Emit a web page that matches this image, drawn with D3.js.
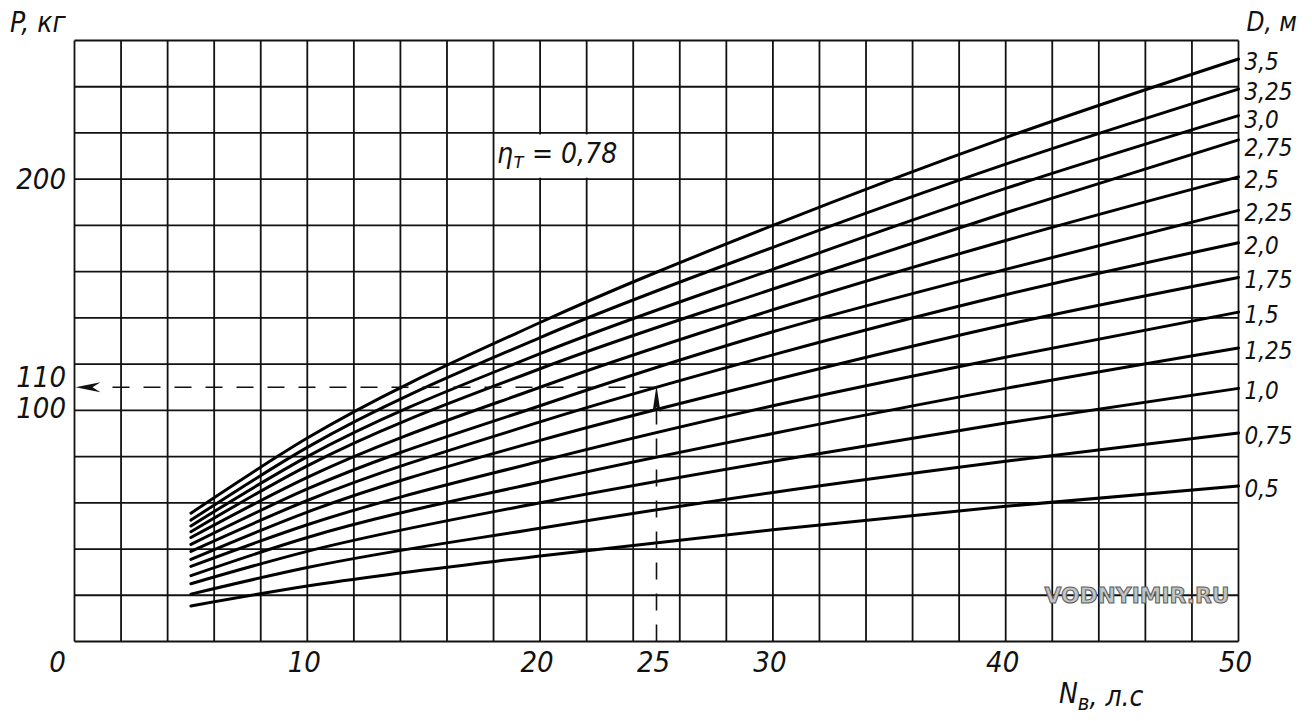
<!DOCTYPE html>
<html><head><meta charset="utf-8">
<script src="https://cdn.jsdelivr.net/npm/d3@7"></script>
<style>
html,body{margin:0;padding:0;background:#fff;}
svg{display:block;}
.lbl{font-family:"Liberation Sans Narrow","DejaVu Sans Condensed","Liberation Sans",sans-serif;font-style:italic;fill:#111;}
</style></head><body>
<svg id="c" width="1312" height="721"></svg>
<script>
// ---- data ----
const powerN = [5, 10, 20, 30, 40, 50];           // N_в, л.с
const diameterLabels = ["3,5","3,25","3,0","2,75","2,5","2,25","2,0","1,75","1,5","1,25","1,0","0,75","0,5"];
const thrustD350 = [55.5, 88, 138, 180, 218, 252];
const thrustD325 = [52.5, 84, 131.5, 170.5, 206.5, 239];
const thrustD300 = [50, 80, 124.5, 161, 196, 227.5];
const thrustD275 = [47.5, 76, 118, 152.5, 185.5, 217];
const thrustD250 = [45, 71, 110, 143.5, 173.5, 201];
const thrustD225 = [42, 66, 102, 134, 161, 186.5];
const thrustD200 = [39, 61, 95, 124, 150, 172.5];
const thrustD175 = [35.5, 56, 87, 113, 137, 157.5];
const thrustD150 = [32.5, 50.5, 78, 102, 123, 142.5];
const thrustD125 = [28.5, 45, 69, 90, 109.5, 127];
const thrustD100 = [25, 39, 60, 78, 94.5, 109.5];
const thrustD075 = [20.5, 32, 49, 64.5, 78, 90.2];
const thrustD050 = [15.4, 24, 37, 48.3, 58.5, 67.3];
const xTickValues = [0, 10, 20, 25, 30, 40, 50];
const yTickValues = [200, 110, 100];
const exampleN = 25, exampleP = 110;
const efficiencyText = "0,78";

const series = [thrustD350, thrustD325, thrustD300, thrustD275, thrustD250, thrustD225,
  thrustD200, thrustD175, thrustD150, thrustD125, thrustD100, thrustD075, thrustD050]
  .map((v, i) => ({label: diameterLabels[i], values: v}));

// ---- drawing ----
const svg = d3.select("#c");
const x = d3.scaleLinear().domain([0, 50]).range([74.5, 1238.5]);
const y = d3.scaleLinear().domain([0, 260]).range([641.5, 40.5]);

const grid = svg.append("g").attr("stroke", "#111").attr("stroke-width", 1.8);
grid.selectAll("line.v").data(d3.range(0, 51, 2)).join("line")
  .attr("x1", d => x(d)).attr("x2", d => x(d)).attr("y1", y(0)).attr("y2", y(260));
grid.selectAll("line.h").data(d3.range(0, 261, 20)).join("line")
  .attr("x1", x(0)).attr("x2", x(50)).attr("y1", d => y(d)).attr("y2", d => y(d));

// eta label with white background
svg.append("rect").attr("x", 495).attr("y", y(220) + 1.5).attr("width", 124)
  .attr("height", y(200) - y(220) - 3).attr("fill", "#fff");
const eta = svg.append("text").attr("class", "lbl").attr("x", 497).attr("y", 163).attr("font-size", 28);
eta.append("tspan").text("η");
eta.append("tspan").attr("font-size", 21).attr("dy", 5).text("т");
eta.append("tspan").attr("dy", -5).text(" = " + efficiencyText);

// curves
const line = d3.line().x((d, i) => x(powerN[i])).y(d => y(d)).curve(d3.curveMonotoneX);
svg.append("g").selectAll("path").data(series).join("path")
  .attr("d", d => line(d.values)).attr("fill", "none").attr("stroke", "#000")
  .attr("stroke-width", 3).attr("stroke-linecap", "round");

// curve labels (pushed apart so they do not collide)
let prevY = -Infinity;
const labelPos = series.map(d => {
  const ly = Math.max(y(d.values[d.values.length - 1]) + 3, prevY + 28);
  prevY = ly;
  return {label: d.label, y: ly};
});
svg.append("g").selectAll("text").data(labelPos).join("text").attr("class", "lbl")
  .attr("x", x(50) + 6).attr("y", d => d.y)
  .attr("dominant-baseline", "central").attr("font-size", 24).text(d => d.label);
svg.append("text").attr("class", "lbl").attr("x", x(50) + 8).attr("y", 22)
  .attr("dominant-baseline", "central").attr("font-size", 26).text("D, м");

// example dashed lines
const dash = svg.append("g").attr("stroke", "#111").attr("stroke-width", 1.6).attr("fill", "none")
  .attr("stroke-dasharray", "17,14");
dash.append("line").attr("x1", x(exampleN)).attr("x2", x(0) + 24)
  .attr("y1", y(exampleP)).attr("y2", y(exampleP));
dash.append("line").attr("x1", x(exampleN)).attr("x2", x(exampleN))
  .attr("y1", y(0)).attr("y2", y(exampleP) + 22);
const ax = x(0) + 1, ay = y(exampleP);
svg.append("path").attr("d", `M${ax},${ay} L${ax + 25},${ay - 5} L${ax + 17},${ay} L${ax + 25},${ay + 5} Z`)
  .attr("fill", "#111");
const ux = x(exampleN), uy = y(exampleP) - 2;
svg.append("path").attr("d", `M${ux},${uy} L${ux - 4},${uy + 27} L${ux},${uy + 22} L${ux + 4},${uy + 27} Z`)
  .attr("fill", "#111");

// axis labels
svg.append("g").selectAll("text").data(xTickValues).join("text").attr("class", "lbl")
  .attr("x", d => d === 0 ? x(0) - 17 : x(d) - 3).attr("y", 662)
  .attr("text-anchor", "middle").attr("dominant-baseline", "central").attr("font-size", 29)
  .text(d => d);
svg.append("g").selectAll("text").data(yTickValues).join("text").attr("class", "lbl")
  .attr("x", 66).attr("y", d => y(d) + (d === 110 ? -10 : (d === 100 ? -2 : 0)))
  .attr("text-anchor", "end").attr("dominant-baseline", "central").attr("font-size", 29)
  .text(d => d);
svg.append("text").attr("class", "lbl").attr("x", 10).attr("y", 22)
  .attr("dominant-baseline", "central").attr("font-size", 28).text("P, кг");
const xl = svg.append("text").attr("class", "lbl").attr("x", 1059).attr("y", 703).attr("font-size", 28);
xl.append("tspan").text("N");
xl.append("tspan").attr("font-size", 22).attr("dy", 7).text("в");
xl.append("tspan").attr("dy", -4).text(", л.с");

// watermark
svg.append("text").attr("x", 1137).attr("y", 596).attr("text-anchor", "middle")
  .attr("dominant-baseline", "central")
  .attr("font-family", "DejaVu Sans, sans-serif").attr("font-weight", "bold").attr("font-size", 21)
  .attr("textLength", 185).attr("lengthAdjust", "spacingAndGlyphs")
  .attr("fill", "#c4c4c4").attr("stroke", "#5e5e5e").attr("stroke-width", 1)
  .text("VODNYIMIR.RU");
</script>
</body></html>
